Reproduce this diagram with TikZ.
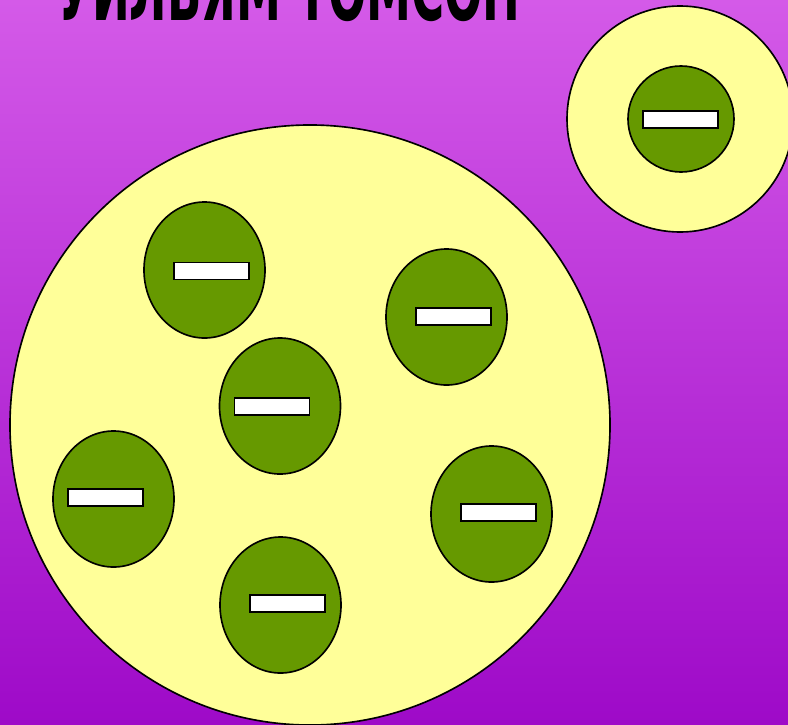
\documentclass[tikz,border=0pt]{standalone}
\usepackage{fontspec}
\newfontfamily\titlefont{DejaVu Sans}
\usetikzlibrary{shapes.geometric, positioning}
\definecolor{bgtop}{RGB}{212,90,232}
\definecolor{bgbottom}{RGB}{158,10,200}
\definecolor{pudding}{RGB}{255,255,153}
\definecolor{plum}{RGB}{102,153,0}

\begin{document}
\begin{tikzpicture}[
    x=0.03cm, y=-0.03cm,
    atom/.style={draw, circle, fill=pudding, line width=1.4pt, inner sep=0pt},
    electron/.style={draw, ellipse, fill=plum, line width=1.4pt, inner sep=0pt, minimum width=3.63cm, minimum height=4.08cm},
    minus/.style={draw, rectangle, fill=white, line width=1pt, inner sep=0pt, minimum width=2.25cm, minimum height=0.51cm},
    title/.style={anchor=base west, inner sep=0pt, font=\titlefont\bfseries}
  ]
  % Background
  \useasboundingbox (0,0) rectangle (788,724);
  \clip (0,0) rectangle (788,724);
  \shade[top color=bgtop, bottom color=bgbottom] (0,0) rectangle (788,724);

  % Title (cut at the top edge)
  \node[title] (title) at (57,20) {\resizebox{13.9cm}{1.9cm}{УИЛЬЯМ ТОМСОН}};

  % Atoms
  \node[atom, minimum size=18cm] (big) at (310,425) {};
  \node[atom, minimum size=6.78cm] (small) at (680,119) {};

  % Electrons
  \node[electron, minimum width=3.18cm, minimum height=3.18cm] (e0) at (681,119) {};
  \node[electron] (e1) at (204.5,270) {};
  \node[electron] (e2) at (446.5,317) {};
  \node[electron] (e3) at (280,406) {};
  \node[electron] (e4) at (113.5,499) {};
  \node[electron] (e5) at (491.5,514) {};
  \node[electron] (e6) at (280.5,605) {};

  % Minus signs
  \node[minus] (m0) at (680.5,119.5) {};
  \node[minus] (m1) at (211.5,271) {};
  \node[minus] (m2) at (453.5,316.5) {};
  \node[minus] (m3) at (272,406.5) {};
  \node[minus] (m4) at (105.5,497.5) {};
  \node[minus] (m5) at (498.5,512.5) {};
  \node[minus] (m6) at (287.5,603.5) {};
\end{tikzpicture}
\end{document}
